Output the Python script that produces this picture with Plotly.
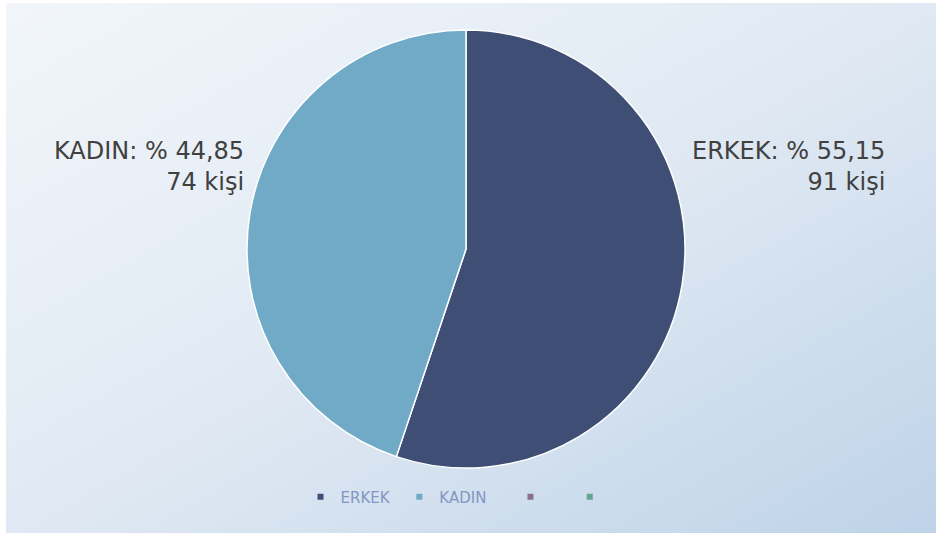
import base64
import plotly.graph_objects as go

# Participants by gender
labels = ["ERKEK", "KADIN"]
counts = [91, 74]
slice_colors = ["#3f4e75", "#70aac6"]

# Legend entries (two extra unnamed series kept from the source workbook);
# trailing no-break spaces widen the entries a little
legend_names = ["ERKEK\u00a0", "KADIN\u00a0\u00a0\u00a0\u00a0", "\u00a0\u00a0\u00a0", "\u00a0"]
legend_colors = ["#3f4e75", "#70aac6", "#8a6f86", "#62a391"]

W, H = 936, 533
total = sum(counts)
shares = [c / total * 100 for c in counts]

def fmt_pct(v):
    return f"{v:.2f}".replace(".", ",")

# Diagonal light-blue backdrop
svg = f"""<svg xmlns='http://www.w3.org/2000/svg' width='{W}' height='{H}' preserveAspectRatio='none'>
<defs><linearGradient id='g' x1='0' y1='0' x2='1' y2='1'>
<stop offset='0' stop-color='#f2f6fa'/>
<stop offset='0.5' stop-color='#e0e9f3'/>
<stop offset='1' stop-color='#bed3e8'/>
</linearGradient></defs>
<rect x='0' y='0' width='{W}' height='{H}' fill='url(#g)'/></svg>"""
bg_uri = "data:image/svg+xml;base64," + base64.b64encode(svg.encode()).decode()

fig = go.Figure()

cx, cy, r = 466, 249, 219
fig.add_trace(go.Pie(
    labels=labels,
    values=counts,
    marker=dict(colors=slice_colors, line=dict(color="white", width=1.5)),
    sort=False,
    direction="clockwise",
    rotation=0,
    textinfo="none",
    hoverinfo="label+value+percent",
    showlegend=False,
    domain=dict(x=[(cx - r) / W, (cx + r) / W],
                y=[(H - cy - r) / H, (H - cy + r) / H]),
))

for name, col in zip(legend_names, legend_colors):
    fig.add_trace(go.Scatter(
        x=[None], y=[None], mode="markers", name=name,
        marker=dict(symbol="square", size=6, color=col),
        hoverinfo="skip",
    ))

# Outside labels: share and head count
label_pos = {"ERKEK": (887, 135), "KADIN": (246, 135)}
for lab, c, s in zip(labels, counts, shares):
    x, y = label_pos[lab]
    fig.add_annotation(
        x=x / W, y=1 - y / H, xref="paper", yref="paper",
        xanchor="right", yanchor="top", align="right", showarrow=False,
        text=f"{lab}: % {fmt_pct(s)}<br>{c} kişi",
        font=dict(family="DejaVu Sans, sans-serif", size=24, color="#404040"),
    )

fig.update_layout(
    width=W, height=H,
    margin=dict(l=0, r=0, t=0, b=0),
    paper_bgcolor="white",
    plot_bgcolor="rgba(0,0,0,0)",
    xaxis=dict(visible=False),
    yaxis=dict(visible=False),
    images=[dict(source=bg_uri, xref="paper", yref="paper",
                 x=6 / W, y=1 - 3 / H, sizex=1 - 6 / W, sizey=1 - 3 / H,
                 xanchor="left", yanchor="top", sizing="stretch", layer="below")],
    legend=dict(orientation="h", x=0.492, xanchor="center", y=36 / H, yanchor="middle",
                font=dict(family="DejaVu Sans, sans-serif", size=15, color="#8596c4"),
                bgcolor="rgba(0,0,0,0)", itemwidth=30),
)

fig.write_html("out.html")
